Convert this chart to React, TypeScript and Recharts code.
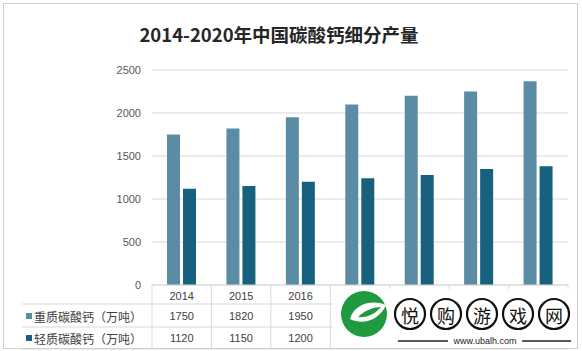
import { BarChart, Bar, XAxis, YAxis, CartesianGrid } from "recharts";

const years = ["2014", "2015", "2016", "2017", "2018", "2019", "2020"];
const heavyCaCO3 = [1750, 1820, 1950, 2100, 2200, 2250, 2370];
const lightCaCO3 = [1120, 1150, 1200, 1240, 1280, 1350, 1380];
const seriesNames = ["重质碳酸钙（万吨）", "轻质碳酸钙（万吨）"];
const yTicks = [0, 500, 1000, 1500, 2000, 2500];
const title = "2014-2020年中国碳酸钙细分产量";
const watermarkChars = ["悦", "购", "游", "戏", "网"];
const watermarkUrl = "www.ubalh.com";

const COLORS = ["#5a8ca5", "#17617f"];
const GRID = "#d9d9d9";
const W = 582;
const H = 351;
const PLOT_LEFT = 152;
const PLOT_RIGHT = 568;
const COL_W = (PLOT_RIGHT - PLOT_LEFT) / years.length;
// table columns from this index on sit under the watermark
const HIDDEN_FROM = 3;
const NUM_FONT = "'Liberation Sans', Arial, sans-serif";
const CJK_FONT = "'Noto Sans CJK SC', sans-serif";

const data = years.map((year, i) => ({
  year,
  heavy: heavyCaCO3[i],
  light: lightCaCO3[i],
}));

// x-axis tick doubles as one column of the data table under the chart
function TableTick(props: any) {
  const { x, y, payload } = props;
  const i = payload.index;
  const left = x - COL_W / 2;
  const right = x + COL_W / 2;
  const rows = [y + 11, y + 31, y + 53];
  const values = [heavyCaCO3, lightCaCO3];
  const showText = i < HIDDEN_FROM;
  return (
    <g>
      <line x1={left} y1={y} x2={left} y2={y + 64} stroke={GRID} />
      {i === years.length - 1 && (
        <line x1={right} y1={y} x2={right} y2={y + 64} stroke={GRID} />
      )}
      {showText && (
        <text
          x={x}
          y={rows[0]}
          textAnchor="middle"
          dominantBaseline="central"
          fontSize={11}
          fontFamily={NUM_FONT}
          fill="#404040"
        >
          {payload.value}
        </text>
      )}
      {showText &&
        values.map((v, k) => (
          <text
            key={k}
            x={x}
            y={rows[k + 1]}
            textAnchor="middle"
            dominantBaseline="central"
            fontSize={11}
            fontFamily={NUM_FONT}
            fill="#404040"
          >
            {v[i]}
          </text>
        ))}
      {i === 0 && (
        <g>
          {[19, 42, 64].map((dy) => (
            <line
              key={dy}
              x1={22}
              y1={y + dy}
              x2={PLOT_RIGHT}
              y2={y + dy}
              stroke={GRID}
            />
          ))}
          {seriesNames.map((name, k) => (
            <g key={name}>
              <rect x={26} y={rows[k + 1] - 3} width={6} height={6} fill={COLORS[k]} />
              <text
                x={34}
                y={rows[k + 1]}
                dominantBaseline="central"
                fontSize={12}
                fontFamily={CJK_FONT}
                fill="#404040"
              >
                {name}
              </text>
            </g>
          ))}
        </g>
      )}
    </g>
  );
}

function Overlay() {
  return (
    <svg
      width={W}
      height={H}
      style={{ position: "absolute", left: 0, top: 0, pointerEvents: "none" }}
    >
      <rect x={3.5} y={3.5} width={574} height={345} fill="none" stroke="#cfcfcf" />
      <text
        x={279}
        y={34}
        textAnchor="middle"
        dominantBaseline="central"
        fontSize={18.5}
        fontWeight={700}
        fontFamily={CJK_FONT}
        fill="#262626"
      >
        {title}
      </text>
      {/* watermark */}
      <rect x={333} y={289} width={244} height={59} fill="#fff" />
      <circle cx={364} cy={314} r={23} fill="#1f9a3f" />
      <path
        d="M350 319 C354 304 372 299 386 305 C380 319 364 326 350 319 Z"
        fill="#fff"
      />
      <path d="M358 317 C365 310 374 307 381 307 C375 314 367 318 358 317 Z" fill="#1f9a3f" />
      {watermarkChars.map((c, i) => (
        <g key={c}>
          <circle cx={410 + i * 36} cy={314} r={15} fill="#fff" stroke="#111" strokeWidth={2.2} />
          <text
            x={410 + i * 36}
            y={315}
            textAnchor="middle"
            dominantBaseline="central"
            fontSize={18}
            fontFamily={CJK_FONT}
            fill="#111"
          >
            {c}
          </text>
        </g>
      ))}
      <line x1={398} y1={341} x2={448} y2={341} stroke="#222" strokeWidth={1.5} />
      <line x1={522} y1={341} x2={571} y2={341} stroke="#222" strokeWidth={1.5} />
      <text
        x={485}
        y={341}
        textAnchor="middle"
        dominantBaseline="central"
        fontSize={9}
        fontFamily={NUM_FONT}
        fill="#222"
      >
        {watermarkUrl}
      </text>
    </svg>
  );
}

export default function App() {
  return (
    <div
      style={{
        position: "absolute",
        left: 0,
        top: 0,
        width: W,
        height: H,
        background: "#fff",
      }}
    >
      <BarChart
        width={W}
        height={H}
        data={data}
        margin={{ top: 70, right: W - PLOT_RIGHT, left: 0, bottom: 0 }}
        barSize={13}
        barGap={3}
      >
        <CartesianGrid vertical={false} stroke={GRID} />
        <XAxis
          dataKey="year"
          height={66}
          interval={0}
          tickSize={0}
          tickMargin={0}
          tickLine={false}
          axisLine={{ stroke: GRID }}
          tick={<TableTick />}
        />
        <YAxis
          width={PLOT_LEFT}
          domain={[0, 2500]}
          ticks={yTicks}
          axisLine={false}
          tickLine={false}
          tickSize={6}
          tickMargin={5}
          tick={{ fontSize: 11, fill: "#595959", fontFamily: NUM_FONT }}
        />
        <Bar dataKey="heavy" name={seriesNames[0]} fill={COLORS[0]} isAnimationActive={false} />
        <Bar dataKey="light" name={seriesNames[1]} fill={COLORS[1]} isAnimationActive={false} />
      </BarChart>
      <Overlay />
    </div>
  );
}
